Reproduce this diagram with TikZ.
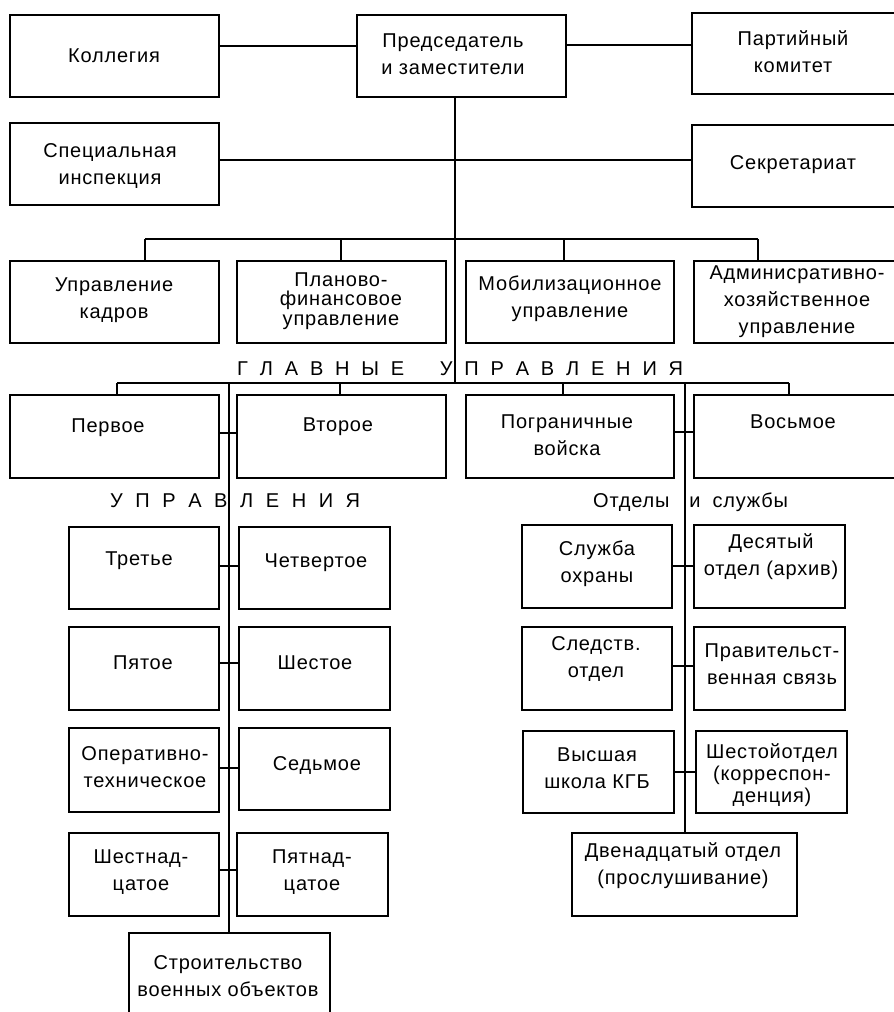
\documentclass[tikz,border=0pt]{standalone}
\usepackage{fontspec}
\setmainfont{Liberation Sans}[LetterSpace=4.0]
\newcommand\mybox[5]{\node[box,minimum width={#4-#2},minimum height={#5-#3}] (#1) at ({(#2+#4)/2},{(#3+#5)/2}) {};}
\begin{document}
\begin{tikzpicture}[x=1pt,y=-1pt,
  box/.style={draw, line width=1.4pt, inner sep=0pt, outer sep=0pt},
  txt/.style={align=center, inner sep=0pt, font=\fontsize{20}{27}\selectfont},
  ln/.style={line width=1.4pt}]
\useasboundingbox (0,0) rectangle (894,1012);
\clip (0,0) rectangle (894,1012);
\fill[white] (0,0) rectangle (894,1012);
% boxes
\mybox{kol}{10}{15}{219}{97}
\mybox{pred}{357}{15}{566}{97}
\mybox{part}{692}{13}{897}{94}
\mybox{spec}{10}{123}{219}{205}
\mybox{secr}{692}{125}{897}{207}
\mybox{upk}{10}{261}{219}{343}
\mybox{plan}{237}{261}{446}{343}
\mybox{mob}{466}{261}{674}{343}
\mybox{adm}{694}{261}{897}{343}
\mybox{perv}{10}{395}{219}{478}
\mybox{vtor}{237}{395}{446}{478}
\mybox{pogr}{466}{395}{674}{478}
\mybox{vosm}{694}{395}{897}{478}
\mybox{tret}{69}{527}{219}{609}
\mybox{chet}{239}{527}{390}{609}
\mybox{pyat}{69}{627}{219}{710}
\mybox{shest}{239}{627}{390}{710}
\mybox{oper}{69}{728}{219}{812}
\mybox{sedm}{239}{728}{390}{810}
\mybox{shn}{69}{833}{219}{916}
\mybox{ptn}{237}{833}{388}{916}
\mybox{stroi}{129}{933}{330}{1020}
\mybox{sluzh}{522}{525}{672}{608}
\mybox{des}{694}{525}{845}{608}
\mybox{sled}{522}{627}{672}{710}
\mybox{prav}{694}{627}{845}{710}
\mybox{vys}{523}{731}{674}{813}
\mybox{shot}{696}{731}{847}{813}
\mybox{dven}{572}{833}{797}{916}
% texts
\node[txt] (kol-t) at (114,56) {Коллегия};
\node[txt] (pred-t) at (453,54) {Председатель\\и заместители};
\node[txt] (part-t) at (793,52) {Партийный\\комитет};
\node[txt] (spec-t) at (110,166) {Специальная\\инспекция};
\node[txt] (secr-t) at (793,165) {Секретариат};
\node[txt] (upk-t) at (114,300) {Управление\\кадров};
\node[txt, font=\fontsize{20}{19.5}\selectfont] (plan-t) at (341,301) {Планово-\\финансовое\\управление};
\node[txt] (mob-t) at (570,299) {Мобилизационное\\управление};
\node[txt] (adm-t) at (797,302) {Админисративно-\\хозяйственное\\управление};
\node[txt] (perv-t) at (108,428) {Первое};
\node[txt] (vtor-t) at (338,427) {Второе};
\node[txt] (pogr-t) at (567,435) {Пограничные\\войска};
\node[txt] (vosm-t) at (793,422) {Восьмое};
\node[txt] (tret-t) at (139,561) {Третье};
\node[txt] (chet-t) at (316,563) {Четвертое};
\node[txt] (pyat-t) at (143,663) {Пятое};
\node[txt] (shest-t) at (315,663) {Шестое};
\node[txt] (oper-t) at (145,767) {Оперативно-\\техническое};
\node[txt] (sedm-t) at (317,765) {Седьмое};
\node[txt] (shn-t) at (141,872) {Шестнад-\\цатое};
\node[txt] (ptn-t) at (312,872) {Пятнад-\\цатое};
\node[txt] (stroi-t) at (228,976) {Строительство\\военных объектов};
\node[txt] (sluzh-t) at (597,564) {Служба\\охраны};
\node[txt] (des-t) at (771,557) {Десятый\\отдел (архив)};
\node[txt] (sled-t) at (596,659) {Следств.\\отдел};
\node[txt] (prav-t) at (772,664) {Правительст-\\венная связь};
\node[txt] (vys-t) at (597,768) {Высшая\\школа КГБ};
\node[txt, font=\fontsize{20}{22}\selectfont] (shot-t) at (772,775) {Шестойотдел\\(корреспон-\\денция)};
\node[txt] (dven-t) at (683,866) {Двенадцатый отдел\\(прослушивание)};
% headings
\node[txt, anchor=base west] (glav) at (237,375) {\makebox[446pt][l]{Г\hfill Л\hfill А\hfill В\hfill Н\hfill Ы\hfill Е\hfill\hfill\hfill У\hfill П\hfill Р\hfill А\hfill В\hfill Л\hfill Е\hfill Н\hfill И\hfill Я}};
\node[txt, anchor=base west] (upr) at (110,507) {\makebox[250pt][l]{У\hfill П\hfill Р\hfill А\hfill В\hfill Л\hfill Е\hfill Н\hfill И\hfill Я}};
\node[txt, anchor=base west] (otd) at (593,507) {Отделы\hspace{20pt}и\hspace{12pt}службы};
% coordinates
\coordinate (t1) at (455,383);
\coordinate (b1l) at (145,239);
\coordinate (b1r) at (758,239);
\coordinate (b2l) at (117,383);
\coordinate (b2r) at (789,383);
\coordinate (lt) at (229,383);
\coordinate (rt) at (685,383);
% connectors
\draw[ln] (kol.east |- 0,46) -- (pred.west |- 0,46);
\draw[ln] (pred.east |- 0,45) -- (part.west |- 0,45);
\draw[ln] (spec.east |- 0,160) -- (secr.west |- 0,160);
\draw[ln] (pred.south -| t1) -- (t1);
\draw[ln] (b1l) -- (b1r);
\draw[ln] (b1l) -- (upk.north -| b1l);
\draw[ln] (341,239) -- (plan.north -| 341,0);
\draw[ln] (564,239) -- (mob.north -| 564,0);
\draw[ln] (b1r) -- (adm.north -| b1r);
\draw[ln] (b2l) -- (b2r);
\draw[ln] (b2l) -- (perv.north -| b2l);
\draw[ln] (340,383) -- (vtor.north -| 340,0);
\draw[ln] (563,383) -- (pogr.north -| 563,0);
\draw[ln] (b2r) -- (vosm.north -| b2r);
\draw[ln] (lt) -- (stroi.north -| lt);
\draw[ln] (rt) -- (dven.north -| rt);
\draw[ln] (perv.east |- 0,433) -- (vtor.west |- 0,433);
\draw[ln] (pogr.east |- 0,432) -- (vosm.west |- 0,432);
\draw[ln] (tret.east |- 0,566) -- (chet.west |- 0,566);
\draw[ln] (pyat.east |- 0,663) -- (shest.west |- 0,663);
\draw[ln] (oper.east |- 0,768) -- (sedm.west |- 0,768);
\draw[ln] (shn.east |- 0,870) -- (ptn.west |- 0,870);
\draw[ln] (sluzh.east |- 0,566) -- (des.west |- 0,566);
\draw[ln] (sled.east |- 0,666) -- (prav.west |- 0,666);
\draw[ln] (vys.east |- 0,772) -- (shot.west |- 0,772);
\end{tikzpicture}
\end{document}
